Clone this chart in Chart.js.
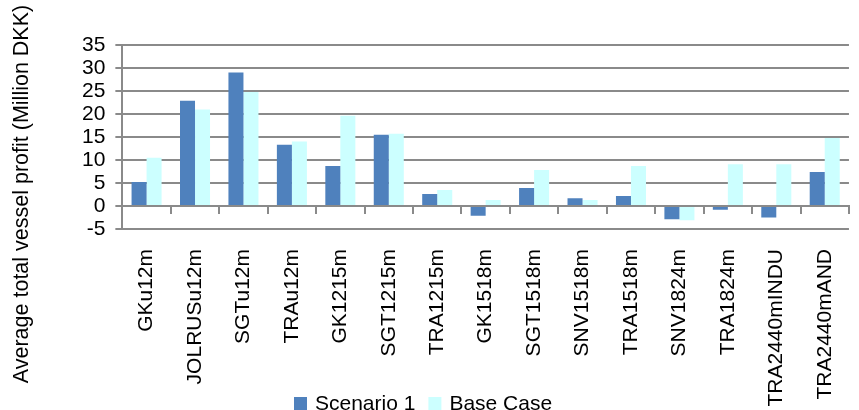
<!DOCTYPE html>
<html>
  <head>
    <title>Average total vessel profit</title>
    <script src="https://cdn.jsdelivr.net/npm/chart.js"></script>
    <style>
      body {
        margin: 0;
        overflow: hidden;
        background-color: white;
      }
    </style>
  </head>
  <body>
    <canvas id="profitChart" width="870" height="417"></canvas>

    <script>
      const categories = [
        "GKu12m", "JOLRUSu12m", "SGTu12m", "TRAu12m", "GK1215m",
        "SGT1215m", "TRA1215m", "GK1518m", "SGT1518m", "SNV1518m",
        "TRA1518m", "SNV1824m", "TRA1824m", "TRA2440mINDU", "TRA2440mAND",
      ];
      const scenario1 = [5.2, 22.9, 29.0, 13.3, 8.7, 15.5, 2.6, -2.1, 3.9, 1.7, 2.2, -2.9, -0.8, -2.5, 7.4];
      const baseCase = [10.5, 21.0, 24.8, 14.0, 19.6, 15.7, 3.5, 1.3, 7.8, 1.3, 8.7, -3.1, 9.1, 9.1, 14.8];
      const yTitle = "Average total vessel profit (Million DKK)";

      const font = "Arial, 'Liberation Sans', sans-serif";
      const gridColor = "#8a8a8a";

      // y title and legend are placed by hand, like in the original
      const extras = {
        id: "extras",
        afterDraw(chart) {
          const c = chart.ctx;
          c.save();
          c.fillStyle = "#000";
          c.font = "21.5px " + font;
          c.translate(22, 194);
          c.rotate(-Math.PI / 2);
          c.textAlign = "center";
          c.textBaseline = "middle";
          c.fillText(yTitle, 0, 0);
          c.restore();

          c.save();
          c.font = "21px " + font;
          c.textBaseline = "alphabetic";
          let x = 294;
          chart.data.datasets.forEach((ds) => {
            c.fillStyle = ds.backgroundColor;
            c.fillRect(x, 397, 13, 13);
            x += 21;
            c.fillStyle = "#000";
            c.fillText(ds.label, x, 410);
            x += c.measureText(ds.label).width + 13;
          });
          c.restore();
        },
      };

      const ctx = document.getElementById("profitChart").getContext("2d");
      new Chart(ctx, {
        type: "bar",
        data: {
          labels: categories,
          datasets: [
            { label: "Scenario 1", data: scenario1, backgroundColor: "#4F81BD" },
            { label: "Base Case", data: baseCase, backgroundColor: "#CCFFFF" },
          ],
        },
        options: {
          responsive: false,
          animation: false,
          devicePixelRatio: 1,
          layout: { padding: { left: 72, right: 2, top: 45, bottom: 4 } },
          datasets: {
            bar: { categoryPercentage: 0.62, barPercentage: 1 },
          },
          plugins: {
            legend: { display: false },
            tooltip: { enabled: false },
          },
          scales: {
            x: {
              position: "bottom",
              grid: { display: false, drawTicks: false },
              border: { display: false },
              ticks: {
                color: "#000",
                font: { family: font, size: 21 },
                minRotation: 90,
                maxRotation: 90,
                autoSkip: false,
                padding: 20,
              },
            },
            x0: {
              type: "category",
              position: { y: 0 },
              offset: true,
              grid: {
                offset: true,
                drawOnChartArea: false,
                tickLength: 7,
                color: gridColor,
                lineWidth: 2,
              },
              border: { display: true, color: gridColor, width: 2 },
              ticks: { display: false },
            },
            y: {
              min: -5,
              max: 35,
              ticks: {
                stepSize: 5,
                autoSkip: false,
                color: "#000",
                font: { family: font, size: 21 },
                padding: 10,
              },
              grid: { color: gridColor, lineWidth: 2, tickLength: 7 },
              border: { color: gridColor, width: 2 },
            },
          },
        },
        plugins: [extras],
      });
    </script>
  </body>
</html>
